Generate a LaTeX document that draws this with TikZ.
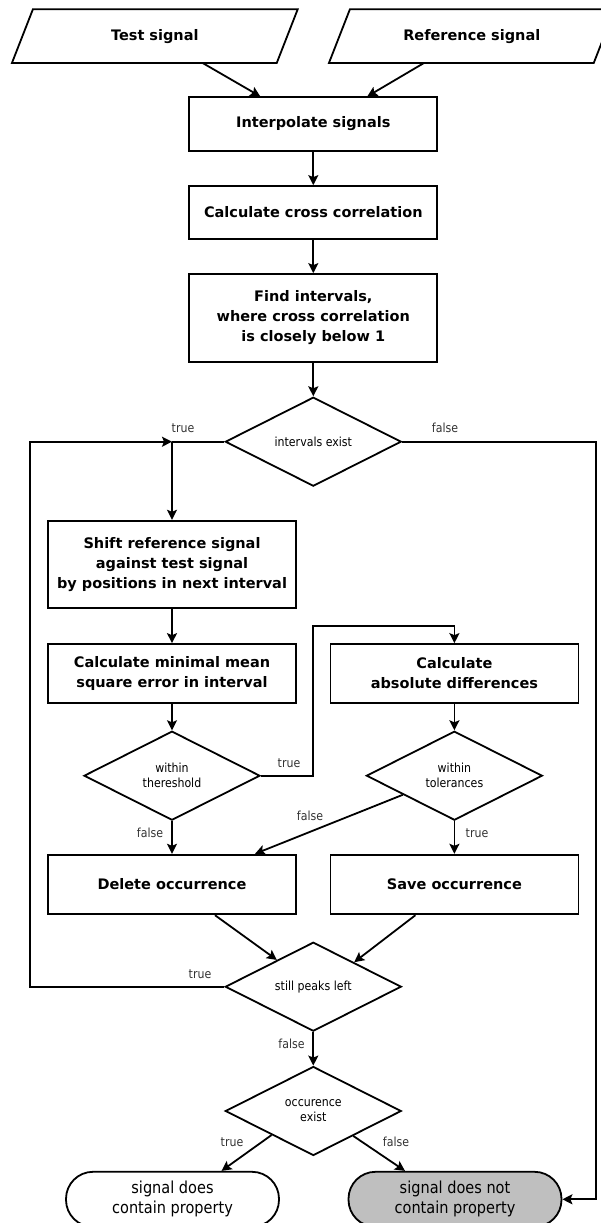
\documentclass[tikz,border=0pt]{standalone}
\usepackage{fontspec}
\setmainfont{DejaVu Sans}
\newfontfamily\condfont{DejaVu Sans}[FakeStretch=0.88]
\usetikzlibrary{shapes.geometric,arrows.meta,calc}
\definecolor{termgray}{HTML}{BFBFBF}

\begin{document}
\begin{tikzpicture}[x=1pt,y=-1pt,
  line width=1.8pt,
  proc/.style={draw, rectangle, minimum width=248pt, inner sep=0pt, align=center,
    font=\fontsize{14.5}{20}\selectfont\bfseries},
  decision/.style={draw, diamond, aspect=2, minimum width=176pt, minimum height=89pt,
    inner sep=0pt, align=center, font=\condfont\fontsize{12.5}{15}\selectfont},
  io/.style={rectangle, minimum width=284pt, minimum height=52pt, inner sep=0pt,
    font=\fontsize{14.5}{20}\selectfont\bfseries},
  term/.style={draw, rectangle, rounded corners=27pt, minimum width=213pt,
    minimum height=55pt, align=center, font=\condfont\fontsize{16.5}{20}\selectfont},
  lbl/.style={font=\condfont\fontsize{12.5}{14}\selectfont, text=black!80, inner sep=0pt},
  arr/.style={-{Stealth[length=10pt,width=10pt,inset=2pt]}},
]
\path[use as bounding box, clip] (0,0) rectangle (601,1223);

% inputs (parallelograms)
\node[io] (test) at (154.8,36.2) {Test signal};
\node[io] (ref) at (471.8,36.2) {Reference signal};
\foreach \n in {test,ref}
  \draw ([xshift=21pt]\n.north west) -- (\n.north east)
        -- ([xshift=-21pt]\n.south east) -- (\n.south west) -- cycle;

% process steps
\node[proc, minimum height=53.4pt] (interp) at (313.3,124) {Interpolate signals};
\node[proc, minimum height=52.7pt] (xcorr) at (313.3,212.4) {Calculate cross correlation};
\node[proc, minimum height=87.7pt] (find) at (313.3,317.9)
  {Find intervals,\\where cross correlation\\is closely below 1};
\node[decision] (exist) at (313.3,441.7) {intervals exist};
\node[proc, minimum height=87.6pt] (shift) at (172,564.5)
  {Shift reference signal\\against test signal\\by positions in next interval};
\node[proc, minimum height=58.7pt] (mse) at (172,673.4)
  {Calculate minimal mean\\square error in interval};
\node[proc, minimum height=58.7pt] (absd) at (454.4,673.4)
  {Calculate\\absolute differences};
\node[decision] (thr) at (172,775.7) {within\\thereshold};
\node[decision] (tol) at (454.4,775.7) {within\\tolerances};
\node[proc, minimum height=59.6pt] (del) at (172,884.5) {Delete occurrence};
\node[proc, minimum height=59.6pt] (save) at (454.4,884.5) {Save occurrence};
\node[decision] (peaks) at (313.3,986.7) {still peaks left};
\node[decision] (occ) at (313.3,1111) {occurence\\exist};
\node[term] (yes) at (172.5,1199.3) {signal does\\contain property};
\node[term, fill=termgray] (no) at (455,1199.3) {signal does not\\contain property};

% routing points
\coordinate (j) at (172,441.7);
\coordinate (lb) at (30,986.7);
\coordinate (lt) at (30,441.7);
\coordinate (rt) at (596,441.7);
\coordinate (rb) at (596,1199.3);
\coordinate (t1) at (312.7,775.7);
\coordinate (t2) at (312.7,626);
\coordinate (t3) at (454.4,626);

% connectors
\draw[arr] ([xshift=48pt]test.south) -- ([xshift=-53pt]interp.north);
\draw[arr] ([xshift=-48pt]ref.south) -- ([xshift=54pt]interp.north);
\draw[arr] (interp) -- (xcorr);
\draw[arr] (xcorr) -- (find);
\draw[arr] (find) -- (exist);
\draw (exist.west) -- (j);
\draw[arr] (j) -- (shift.north);
\draw[arr] (exist.east) -- (rt) -- (rb) -- (no.east);
\draw[arr] (shift) -- (mse);
\draw[arr] (mse) -- (thr);
\draw[arr] (thr.east) -- (t1) -- (t2) -- (t3) -- (absd.north);
\draw[arr] (absd) -- (tol);
\draw[arr] (thr) -- (del);
\draw[arr] (tol) -- (save);
\draw[arr] ($(tol.west)!0.42!(tol.south)$) -- ([xshift=83pt]del.north);
\draw[arr] ([xshift=43pt]del.south) -- ($(peaks.west)!0.59!(peaks.north)$);
\draw[arr] ([xshift=-39pt]save.south) -- ($(peaks.east)!0.54!(peaks.north)$);
\draw[arr] (peaks.west) -- (lb) -- (lt) -- (j);
\draw[arr] (peaks) -- (occ);
\draw[arr] ($(occ.west)!0.53!(occ.south)$) -- ([xshift=49pt]yes.north);
\draw[arr] ($(occ.east)!0.55!(occ.south)$) -- ([xshift=-50pt]no.north);

% branch labels
\node[lbl] (l1) at (183,428) {true};
\node[lbl] (l2) at (445,428) {false};
\node[lbl] (l3) at (289,763) {true};
\node[lbl] (l4) at (150,833) {false};
\node[lbl] (l5) at (310,816) {false};
\node[lbl] (l6) at (477,833) {true};
\node[lbl] (l7) at (200,974.3) {true};
\node[lbl] (l8) at (291.5,1044) {false};
\node[lbl] (l9) at (232,1141.7) {true};
\node[lbl] (l10) at (396,1141.7) {false};
\end{tikzpicture}
\end{document}
